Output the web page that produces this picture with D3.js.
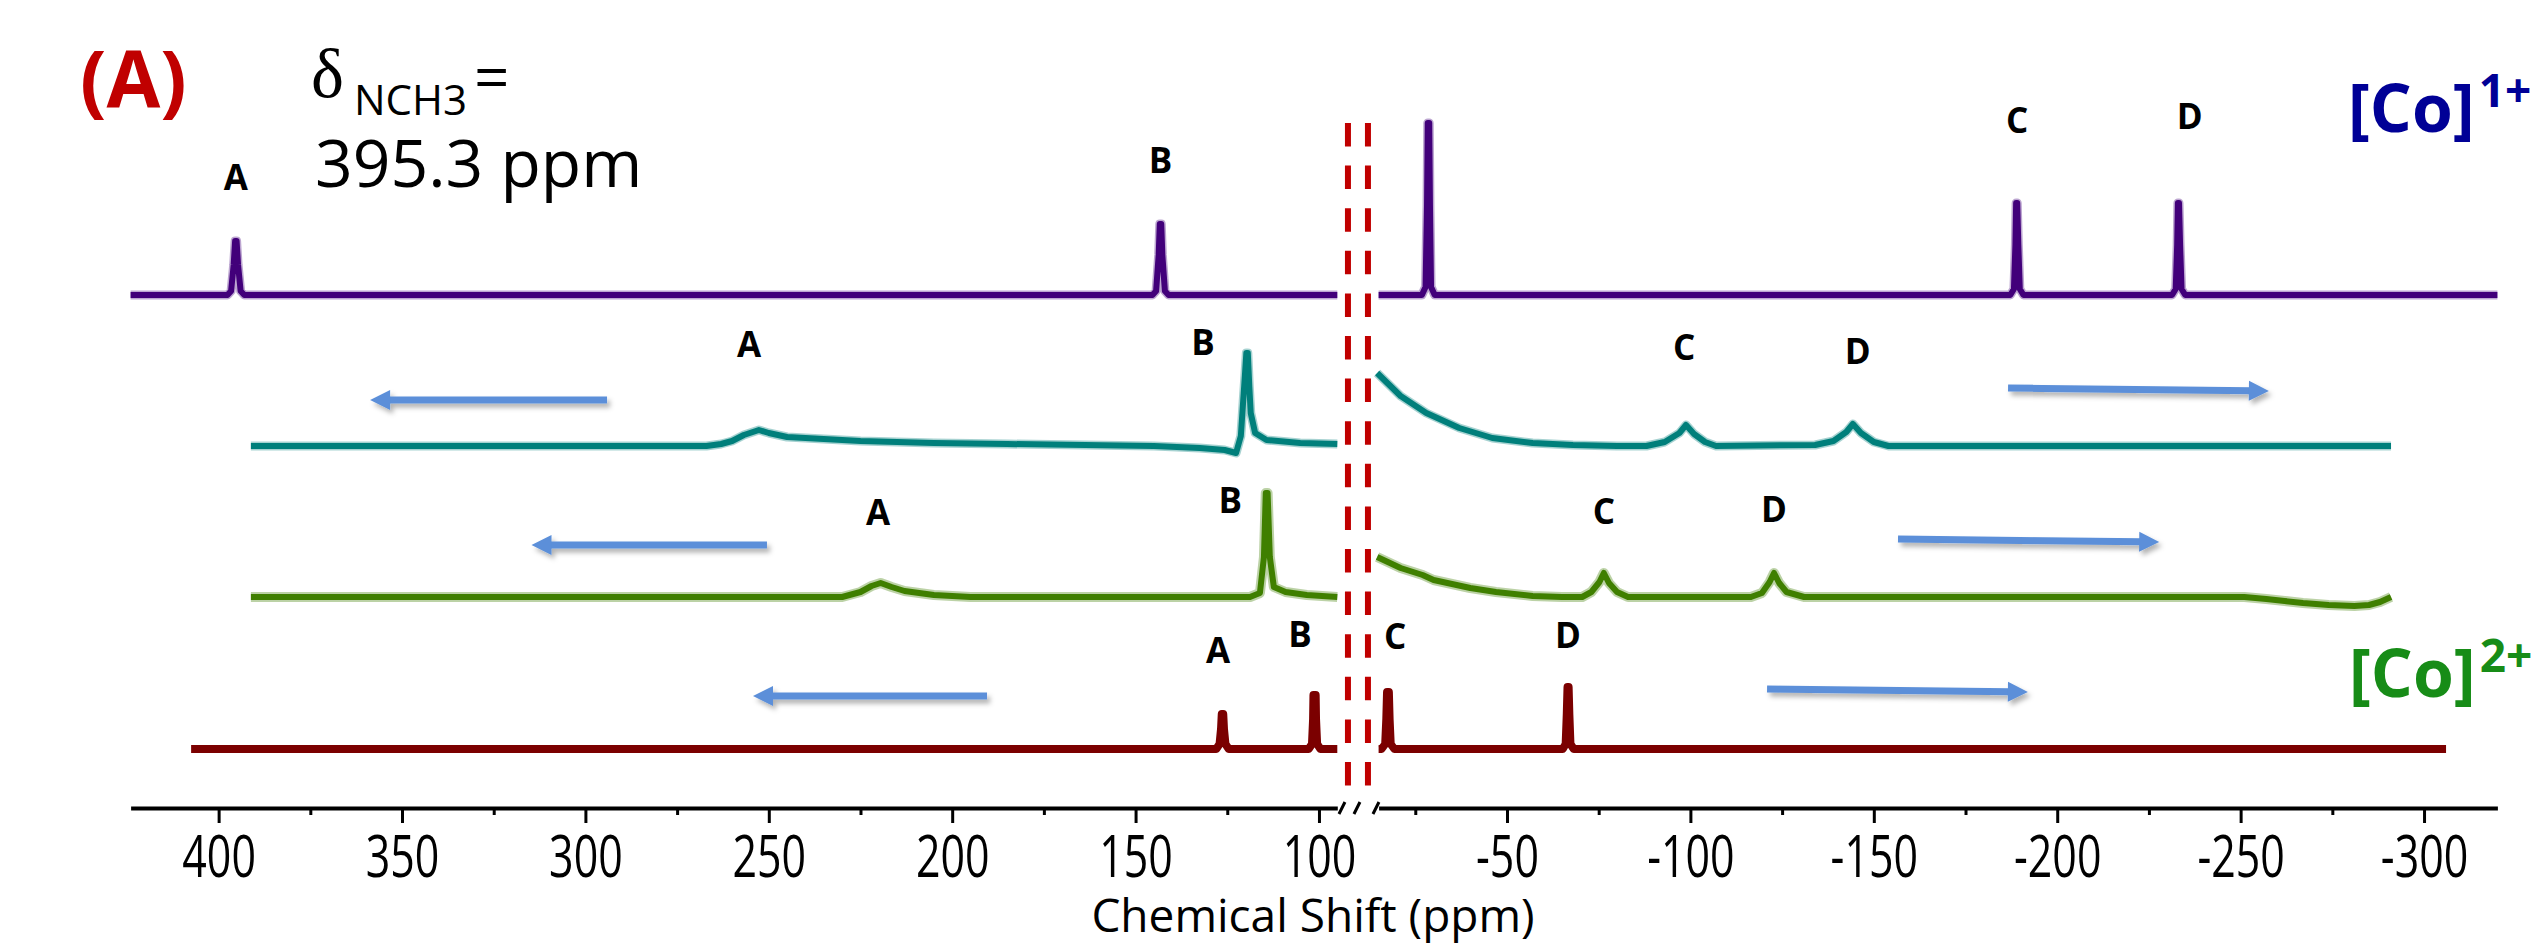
<!DOCTYPE html>
<html><head><meta charset="utf-8">
<script src="https://cdn.jsdelivr.net/npm/d3@7"></script>
<style>html,body{margin:0;padding:0;background:#fff;} svg{display:block;}</style>
</head><body>
<svg id="c" width="2531" height="944"></svg>
<script>
// ---- tick labels ----
const leftMajorTicks = [400, 350, 300, 250, 200, 150, 100];
const leftMinorTicks = [375, 325, 275, 225, 175, 125];
const rightMajorTicks = [-50, -100, -150, -200, -250, -300];
const rightMinorTicks = [-25, -75, -125, -175, -225, -275];

// ---- series (ppm, intensity) — left of axis break and right of axis break ----
const seriesNames = ["[Co]1+", "intermediate 1", "intermediate 2", "[Co]2+"];
const stackOffsets = [513, 362, 211, 59];

const purpleLeft = [[424,0],[397.6,0],[396.6,4],[395.9,30],[395.5,54],[395.1,54],[394.7,30],[394.0,4],[393.0,0],
  [145.4,0],[144.4,4],[143.7,40],[143.4,71],[143.0,71],[142.7,40],[142.0,4],[141.0,0],[95,0]];
const purpleRight = [[-15,0],[-26.8,0],[-27.8,8],[-28.2,90],[-28.4,172],[-28.8,172],[-29.0,90],[-29.3,8],[-30.3,0],
  [-187.2,0],[-188.2,6],[-188.6,50],[-188.8,92],[-189.1,92],[-189.4,50],[-189.8,6],[-190.8,0],
  [-231.3,0],[-232.3,6],[-232.7,50],[-232.9,92],[-233.2,92],[-233.5,50],[-233.9,6],[-234.9,0],[-320,0]];

const tealLeft = [[391.2,0],[300,0],[267,0],[263,2],[260,5],[256.8,11],[252.7,16],[250,13],[245,9],[235,7],[225,5],
  [205,3],[185,2],[145,0],[132.5,-2],[125.7,-4],[122.6,-7],[121.3,10],[120.2,70],[119.8,93],[119.4,93],[119.0,60],
  [118.6,33],[117.4,13],[114.3,6],[105.1,3],[95,2]];
const tealRight = [[-14.6,73],[-21,50],[-28,33],[-37,18],[-46,8],[-57,3],[-68,1],[-80,0],[-88,0],[-93,4],[-97,13],
  [-98.8,21],[-101,12],[-104,4],[-107,0],[-134,1],[-139,5],[-142.5,14],[-144.3,22],[-146.5,13],[-150,4],[-154,0],[-291,0]];

const greenLeft = [[391.2,0],[230,0],[225,5],[222,11],[219.5,14],[216.5,10],[213,6],[205,2],[195,0],
  [118.8,0],[116.1,4],[115.0,40],[114.5,104],[114.0,104],[113.4,40],[112.3,10],[109.1,5],[103.3,2],[95,0]];
const greenRight = [[-14.6,40],[-21,29],[-27,22],[-30,17],[-35,13],[-40,9],[-47,5],[-57,1],[-65,0],
  [-70.5,0],[-73,5],[-75.2,15],[-76.4,24],[-77.8,14],[-80,5],[-83,0],
  [-116.5,0],[-119.5,4],[-121.6,15],[-122.8,24],[-124.2,14],[-126.2,5],[-131,0],
  [-251,0],[-257,-2],[-262,-4],[-267,-6],[-274,-8],[-281,-9],[-285,-8],[-288,-5],[-291,0]];

const redLeft = [[407.5,0],[128,0],[127.1,5],[126.7,20],[126.5,35],[126.1,35],[125.9,20],[125.5,5],[124.6,0],
  [102.8,0],[101.9,5],[101.6,30],[101.5,54],[100.9,54],[100.8,30],[100.5,5],[99.6,0],[95,0]];
const redRight = [[-15,0],[-15.8,0],[-16.8,5],[-17.1,30],[-17.3,57],[-17.8,57],[-18,30],[-18.3,5],[-19.3,0],
  [-65.2,0],[-66,5],[-66.3,35],[-66.5,62],[-66.8,62],[-67,35],[-67.3,5],[-68.2,0],[-306,0]];

// peak labels: [text, ppm, height above the trace baseline]
const purpleLabels = [["A",395.3,105],["B",143.2,122],["C",-189.1,162],["D",-236.1,166]];
const tealLabels   = [["A",255.4,89],["B",131.6,91],["C",-98.3,86],["D",-145.6,82]];
const greenLabels  = [["A",220.2,72],["B",124.2,84],["C",-76.4,73],["D",-122.8,75]];
const redLabels    = [["A",127.5,86],["B",105.2,102],["C",-19.5,100],["D",-66.6,101]];

// shift arrows: [row, ppm from, ppm to (tip), height from, height to]
const arrowRows = [
  [1, 294.1, 358.7, 46, 46], [1, -186.6, -257.7, 58, 55],
  [2, 250.5, 314.7, 52, 52], [2, -156.6, -227.8, 58, 55],
  [3, 190.5, 254.3, 53, 53], [3, -120.9, -192.0, 60, 57]
];

const colors = ["#42007a", "#007f7b", "#3f7f00", "#7b0000"];
const FONT = "'Open Sans', sans-serif";

// ---- scales ----
const svg = d3.select("#c");
const xL = d3.scaleLinear().domain([424, 95]).range([130.6, 1337.3]);
const xR = d3.scaleLinear().domain([-15, -320]).range([1378.6, 2497.4]);
const y = d3.scaleLinear().domain([0, 700]).range([808, 108]);
const xOf = v => v > 40 ? xL(v) : xR(v);

const defs = svg.append("defs");
const f = defs.append("filter").attr("id","sh").attr("x","-20%").attr("y","-100%").attr("width","140%").attr("height","300%");
f.append("feDropShadow").attr("dx",3).attr("dy",4).attr("stdDeviation",2.5).attr("flood-color","#000").attr("flood-opacity",0.3);

// ---- axis ----
const gAx = svg.append("g").attr("transform", `translate(0,${y(0)})`);
function axisPart(scale, major, minor) {
  const gMin = gAx.append("g").call(d3.axisBottom(scale).tickValues(minor).tickSize(7).tickSizeOuter(0).tickFormat(""));
  gMin.select(".domain").remove();
  gMin.selectAll("line").attr("stroke","#000").attr("stroke-width",3);
  const g = gAx.append("g").call(d3.axisBottom(scale).tickValues(major).tickSize(15).tickSizeOuter(0).tickFormat(d => String(d)));
  g.select(".domain").attr("stroke","#000").attr("stroke-width",4);
  g.selectAll("line").attr("stroke","#000").attr("stroke-width",3);
  g.selectAll("text").attr("y",69).attr("dy",0).attr("fill","#000")
    .style("font-family",FONT).style("font-size","58px").attr("transform","scale(0.74,1)");
}
axisPart(xL, leftMajorTicks, leftMinorTicks);
axisPart(xR, rightMajorTicks, rightMinorTicks);
const mid = (xL(95) + xR(-15)) / 2;
[-16, -1, 18].forEach(dx => {
  gAx.append("line").attr("x1", mid+dx-3).attr("y1", 6).attr("x2", mid+dx+3).attr("y2", -6)
    .attr("stroke","#000").attr("stroke-width",3);
});
svg.append("text").attr("x", 1313).attr("y", 932).attr("text-anchor","middle")
  .style("font-family",FONT).style("font-size","46px").attr("fill","#000").text("Chemical Shift (ppm)");

// ---- traces ----
const segs = [[purpleLeft, purpleRight],[tealLeft, tealRight],[greenLeft, greenRight],[redLeft, redRight]];
segs.forEach((pair, i) => {
  pair.forEach((pts, side) => {
    const sx = side === 0 ? xL : xR;
    const line = d3.line().x(d => sx(d[0])).y(d => y(d[1] + stackOffsets[i]));
    if (i < 3) {
      svg.append("path").attr("d", line(pts)).attr("fill","none").attr("stroke", colors[i])
        .attr("stroke-width", i === 2 ? 10 : 9).attr("stroke-opacity",0.35).attr("stroke-linejoin","round");
    }
    svg.append("path").attr("d", line(pts)).attr("fill","none").attr("stroke", colors[i])
      .attr("stroke-width", i === 3 ? 8 : 6).attr("stroke-linejoin","round");
  });
});

// ---- peak labels ----
[purpleLabels, tealLabels, greenLabels, redLabels].forEach((labs, i) => {
  svg.append("g").selectAll("text").data(labs).join("text")
    .attr("x", d => xOf(d[1])).attr("y", d => y(d[2] + stackOffsets[i]))
    .attr("text-anchor","middle").style("font-family",FONT).style("font-weight","700")
    .style("font-size","35px").attr("fill","#000").text(d => d[0]);
});

// ---- arrows ----
const gArr = svg.append("g").attr("filter","url(#sh)");
arrowRows.forEach(a => {
  const x1 = xOf(a[1]), x2 = xOf(a[2]);
  const y1 = y(a[3] + stackOffsets[a[0]]), y2 = y(a[4] + stackOffsets[a[0]]);
  const len = Math.hypot(x2-x1, y2-y1), ux = (x2-x1)/len, uy = (y2-y1)/len;
  const hl = 20, hw = 10;
  const bx = x2 - ux*hl, by = y2 - uy*hl;
  gArr.append("line").attr("x1",x1).attr("y1",y1).attr("x2",bx+ux*2).attr("y2",by+uy*2)
    .attr("stroke","#5b8fd9").attr("stroke-width",7);
  gArr.append("polygon").attr("points",
    `${x2},${y2} ${bx - uy*hw},${by + ux*hw} ${bx + uy*hw},${by - ux*hw}`).attr("fill","#5b8fd9");
});

// ---- dashed break lines ----
[mid-10, mid+10].forEach(xx => {
  svg.append("line").attr("x1",xx).attr("x2",xx).attr("y1",123).attr("y2",787)
    .attr("stroke","#c00000").attr("stroke-width",6).attr("stroke-dasharray","23.5,19.1");
});

// ---- texts ----
svg.append("text").attr("x",80).attr("y",107).style("font-family",FONT).style("font-weight","700")
  .style("font-size","78px").attr("fill","#c00000").text("(A)");
svg.append("text").attr("x",311).attr("y",97).style("font-family","'Liberation Serif', serif")
  .style("font-size","70px").attr("fill","#000").text("δ");
svg.append("text").attr("x",354).attr("y",115).style("font-family",FONT)
  .style("font-size","42px").attr("fill","#000").text("NCH3");
svg.append("text").attr("x",474).attr("y",100).style("font-family",FONT)
  .style("font-size","62px").attr("fill","#000").text("=");
svg.append("text").attr("x",315).attr("y",187).style("font-family",FONT)
  .style("font-size","66px").attr("fill","#000").text("395.3 ppm");

function coLabel(x, yb, sup, color) {
  const t = svg.append("text").attr("x",x).attr("y",yb).style("font-family",FONT).style("font-weight","700")
    .style("font-size","66px").attr("fill",color);
  t.append("tspan").text("[Co]");
  t.append("tspan").attr("dx",4).attr("dy",-25).style("font-size","46px").text(sup);
}
coLabel(2348, 132, "1+", "#000096");
coLabel(2349, 697, "2+", "#178c17");
</script>
</body></html>
